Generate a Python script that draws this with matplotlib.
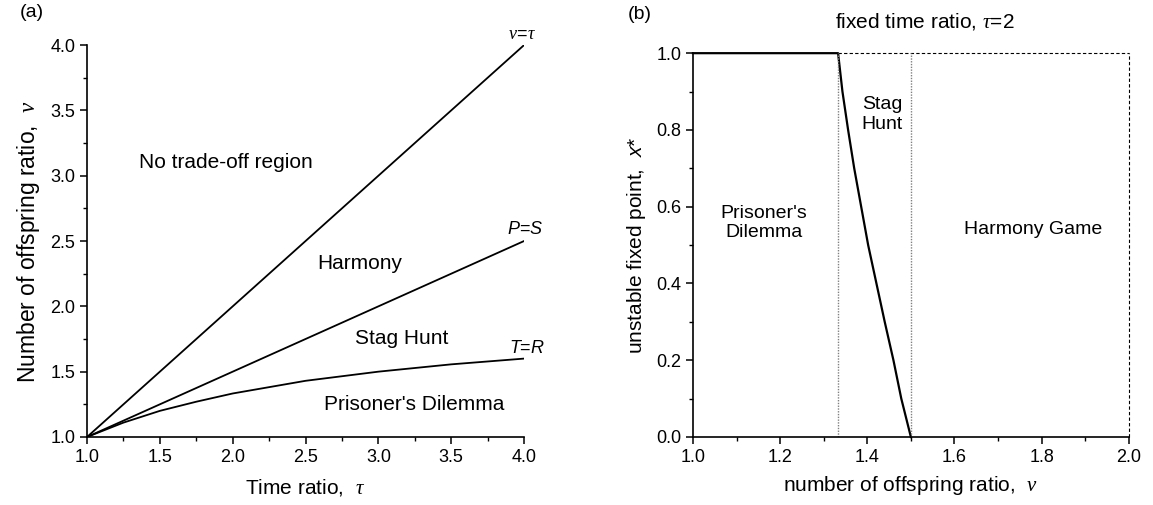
import matplotlib
matplotlib.use("Agg")
import matplotlib.pyplot as plt
from matplotlib.ticker import MultipleLocator

plt.rcParams["font.family"] = ["Liberation Sans", "DejaVu Sans"]
plt.rcParams["mathtext.fontset"] = "custom"
plt.rcParams["mathtext.rm"] = "Liberation Sans"
plt.rcParams["mathtext.it"] = "Liberation Serif:italic"
plt.rcParams["mathtext.sf"] = "Liberation Sans:italic"

# panel (a): boundaries in the (tau, nu) plane
tau = [1.0, 1.25, 1.5, 1.75, 2.0, 2.5, 3.0, 3.5, 4.0]
nu_equal = [1.0, 1.25, 1.5, 1.75, 2.0, 2.5, 3.0, 3.5, 4.0]
nu_ps = [1.0, 1.125, 1.25, 1.375, 1.5, 1.75, 2.0, 2.25, 2.5]
nu_tr = [1.0, 1.11, 1.2, 1.27, 1.333, 1.43, 1.5, 1.556, 1.6]

# panel (b): unstable fixed point at tau = 2
nu_b = [1.0, 1.333, 1.343, 1.356, 1.370, 1.386, 1.402, 1.421, 1.440, 1.460, 1.478, 1.5]
xstar = [1.0, 1.0, 0.9, 0.8, 0.7, 0.6, 0.5, 0.4, 0.3, 0.2, 0.1, 0.0]
nu_pd_sh = 1.333
nu_sh_hg = 1.5

fig = plt.figure(figsize=(11.53, 5.05), dpi=100)
ax1 = fig.add_axes([0.0755, 0.1347, 0.379, 0.776])
ax2 = fig.add_axes([0.601, 0.1347, 0.378, 0.760])

lw = 1.3
for ax in (ax1, ax2):
    ax.spines["top"].set_visible(False)
    ax.spines["right"].set_visible(False)
    ax.spines["left"].set_linewidth(1.2)
    ax.spines["bottom"].set_linewidth(1.2)
    ax.tick_params(which="major", direction="out", length=5, width=1.1, labelsize=13)
    ax.tick_params(which="minor", direction="out", length=3, width=1.0)

# (a)
ax1.plot(tau, nu_equal, color="black", lw=lw)
ax1.plot(tau, nu_ps, color="black", lw=lw)
ax1.plot(tau, nu_tr, color="black", lw=lw)
ax1.set_xlim(1.0, 4.0)
ax1.set_ylim(1.0, 4.0)
ax1.xaxis.set_major_locator(MultipleLocator(0.5))
ax1.xaxis.set_minor_locator(MultipleLocator(0.25))
ax1.yaxis.set_major_locator(MultipleLocator(0.5))
ax1.yaxis.set_minor_locator(MultipleLocator(0.25))
ax1.set_xlabel(r"Time ratio,  $\tau$", fontsize=15, labelpad=8)
ax1.set_ylabel(r"Number of offspring ratio,  $\nu$", fontsize=16.5, labelpad=6)
ax1.text(1.95, 3.1, "No trade-off region", fontsize=15, ha="center", va="center")
ax1.text(2.87, 2.33, "Harmony", fontsize=15, ha="center", va="center")
ax1.text(3.16, 1.755, "Stag Hunt", fontsize=15, ha="center", va="center")
ax1.text(3.245, 1.25, "Prisoner's Dilemma", fontsize=15, ha="center", va="center")
ax1.text(3.99, 4.08, r"$\nu\!=\!\tau$", fontsize=13, ha="center", va="center", clip_on=False)
ax1.text(4.01, 2.59, r"$\mathsf{P}$=$\mathsf{S}$", fontsize=13, ha="center", va="center")
ax1.text(4.02, 1.68, r"$\mathsf{T}$=$\mathsf{R}$", fontsize=13, ha="center", va="center")

# (b)
ax2.plot(nu_b, xstar, color="black", lw=lw + 0.3, clip_on=False)
ax2.plot([nu_pd_sh, 2.0], [1.0, 1.0], color="black", lw=0.8, ls=(0, (3, 2)), clip_on=False)
ax2.plot([2.0, 2.0], [0.0, 1.0], color="black", lw=0.8, ls=(0, (3, 2)), clip_on=False)
ax2.plot([nu_pd_sh, nu_pd_sh], [0.0, 1.0], color="gray", lw=1.0, ls=(0, (1, 1)))
ax2.plot([nu_sh_hg, nu_sh_hg], [0.0, 1.0], color="gray", lw=1.0, ls=(0, (1, 1)))
ax2.set_xlim(1.0, 2.0)
ax2.set_ylim(0.0, 1.0)
ax2.xaxis.set_major_locator(MultipleLocator(0.2))
ax2.xaxis.set_minor_locator(MultipleLocator(0.1))
ax2.yaxis.set_major_locator(MultipleLocator(0.2))
ax2.yaxis.set_minor_locator(MultipleLocator(0.1))
ax2.set_xlabel(r"number of offspring ratio,  $\nu$", fontsize=15, labelpad=6)
ax2.set_ylabel(r"unstable fixed point,  $\mathsf{x}$*", fontsize=15, labelpad=6)
ax2.text(1.434, 0.84, "Stag\nHunt", fontsize=14, ha="center", va="center", linespacing=1.2)
ax2.text(1.162, 0.557, "Prisoner's\nDilemma", fontsize=14, ha="center", va="center", linespacing=1.2)
ax2.text(1.781, 0.541, "Harmony Game", fontsize=14, ha="center", va="center")

fig.text(925 / 1153, 1 - 22 / 505, r"fixed time ratio, $\tau$=2", fontsize=15, ha="center", va="center")
fig.text(20 / 1153, 1 - 4 / 505, "(a)", fontsize=14, ha="left", va="top")
fig.text(628 / 1153, 1 - 6 / 505, "(b)", fontsize=14, ha="left", va="top")

fig.savefig("out.png", dpi=100)
plt.close(fig)
